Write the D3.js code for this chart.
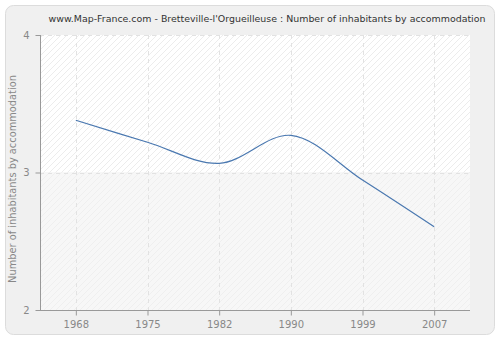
<!DOCTYPE html>
<html><head><meta charset="utf-8">
<script src="https://cdn.jsdelivr.net/npm/d3@7"></script>
<style>body{margin:0;background:#fff}svg{display:block}</style>
</head><body>
<svg id="c" width="500" height="340"></svg>
<script>
const years = ["1968","1975","1982","1990","1999","2007"];
const values = [3.38, 3.22, 3.067, 3.27, 2.945, 2.605];
const yTicks = [2, 3, 4];
const title = "www.Map-France.com - Bretteville-l'Orgueilleuse : Number of inhabitants by accommodation";
const yLabel = "Number of inhabitants by accommodation";

const svg = d3.select("#c");
const m = {l:40, r:470, t:35, b:310};

const defs = svg.append("defs");
const pat = defs.append("pattern").attr("id","hatch").attr("patternUnits","userSpaceOnUse")
  .attr("width",6).attr("height",6);
pat.append("rect").attr("width",6).attr("height",6).attr("fill","#ffffff");
pat.append("path").attr("d","M-1,1 L1,-1 M0,6 L6,0 M5,7 L7,5").attr("stroke","#ececec").attr("stroke-width",1);
const pat2 = defs.append("pattern").attr("id","hatch2").attr("patternUnits","userSpaceOnUse")
  .attr("width",6).attr("height",6);
pat2.append("rect").attr("width",6).attr("height",6).attr("fill","#f7f7f7");
pat2.append("path").attr("d","M-1,1 L1,-1 M0,6 L6,0 M5,7 L7,5").attr("stroke","#efefef").attr("stroke-width",1);

svg.append("rect").attr("x",5.5).attr("y",5.5).attr("width",489).attr("height",329)
  .attr("rx",8).attr("fill","#f0f0f0").attr("stroke","#dcdcdc");

const x = d3.scalePoint().domain(years).range([m.l, m.r]).padding(0.5);
const y = d3.scaleLinear().domain([2,4]).range([m.b, m.t]);

svg.append("rect").attr("x",m.l).attr("y",y(4)).attr("width",m.r-m.l).attr("height",y(3)-y(4)).attr("fill","url(#hatch)");
svg.append("rect").attr("x",m.l).attr("y",y(3)).attr("width",m.r-m.l).attr("height",y(2)-y(3)).attr("fill","url(#hatch2)");

const grid = svg.append("g").attr("stroke","#e2e2e2").attr("stroke-dasharray","4,4").attr("fill","none");
years.forEach(d=>grid.append("line").attr("x1",Math.round(x(d))+0.5).attr("x2",Math.round(x(d))+0.5).attr("y1",m.t).attr("y2",m.b));
yTicks.forEach(v=>grid.append("line").attr("x1",m.l).attr("x2",m.r).attr("y1",Math.round(y(v))+0.5).attr("y2",Math.round(y(v))+0.5));

const line = d3.line().x((d,i)=>x(years[i])).y(d=>y(d)).curve(d3.curveCatmullRom.alpha(0.5));
svg.append("path").datum(values).attr("d",line).attr("fill","none").attr("stroke","#4a78b0").attr("stroke-width",1.2);

const xa = svg.append("g").attr("transform",`translate(0,${m.b+0.5})`)
  .call(d3.axisBottom(x).tickSize(5).tickPadding(5).tickSizeOuter(0));
const ya = svg.append("g").attr("transform",`translate(${m.l+0.5},0)`)
  .call(d3.axisLeft(y).tickValues(yTicks).tickFormat(d3.format("d")).tickSize(5).tickPadding(6).tickSizeOuter(0));
[xa,ya].forEach(a=>{
  a.select(".domain").attr("stroke","#999");
  a.selectAll(".tick line").attr("stroke","#999");
  a.selectAll("text").attr("fill","#888").attr("font-family","DejaVu Sans").attr("font-size",10);
});
xa.select(".domain").attr("d",`M${m.l},0H${m.r}`);
ya.select(".domain").attr("d",`M0,${m.t}V${m.b}`);

function fit(sel, target){
  const len = sel.node().getComputedTextLength();
  const fs = +sel.attr("font-size");
  sel.attr("font-size", (fs*target/len).toFixed(2));
}
const t = svg.append("text").attr("x",267).attr("y",22).attr("text-anchor","middle")
  .attr("font-family","DejaVu Sans").attr("font-size",11).attr("fill","#333").text(title);
fit(t, 438);

const yl = svg.append("text").attr("transform",`translate(16,179) rotate(-90)`).attr("text-anchor","middle")
  .attr("font-family","DejaVu Sans").attr("font-size",10).attr("fill","#888").text(yLabel);
fit(yl, 208);
</script>
</body></html>
